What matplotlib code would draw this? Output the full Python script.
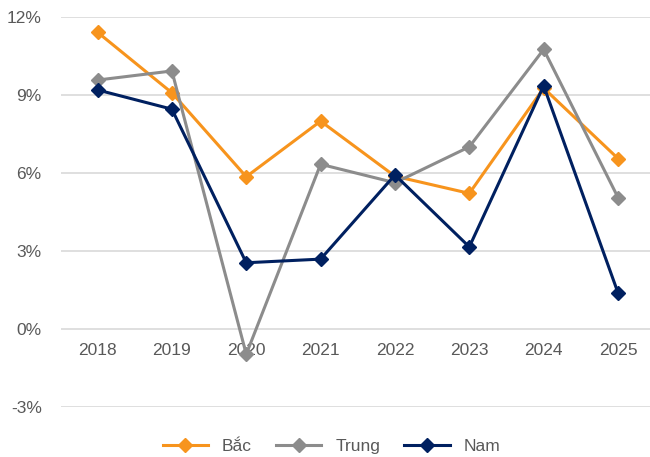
import matplotlib.pyplot as plt
from matplotlib.ticker import FuncFormatter

plt.rcParams['font.family'] = ['Liberation Sans', 'DejaVu Sans']

years = ['2018', '2019', '2020', '2021', '2022', '2023', '2024', '2025']
bac = [11.41, 9.08, 5.85, 7.99, 5.87, 5.21, 9.26, 6.55]
trung = [9.57, 9.92, -0.98, 6.33, 5.62, 7.0, 10.75, 5.05]
nam = [9.19, 8.45, 2.54, 2.68, 5.92, 3.15, 9.35, 1.38]

series = [
    ('Bắc', bac, '#F7941D'),
    ('Trung', trung, '#8C8C8C'),
    ('Nam', nam, '#002060'),
]

fig = plt.figure(figsize=(6.5, 4.57), dpi=100)
ax = fig.add_axes([0.094, 0.110, 0.906, 0.853])

x = list(range(len(years)))
for name, vals, color in series:
    ax.plot(x, vals, color=color, lw=2.2, marker='D', markersize=7,
            label=name, zorder=3)

ax.set_ylim(-3, 12)
ax.set_yticks([-3, 0, 3, 6, 9, 12])
ax.yaxis.set_major_formatter(FuncFormatter(lambda v, p: f'{v:.0f}%'))
ax.set_xlim(-0.49, 7.43)
ax.set_xticks(x)
ax.set_xticklabels(years)

ax.grid(axis='y', color='#D9D9D9', lw=1.2, zorder=0)
for s in ax.spines.values():
    s.set_visible(False)
ax.tick_params(length=0, labelsize=12.5, colors='#595959')
ax.tick_params(axis='y', pad=14)
# năm nằm ngay dưới đường 0%
ax.tick_params(axis='x', pad=-46)

# chú thích canh giữa theo cả hình, không theo trục
fig.legend(loc='lower center', bbox_to_anchor=(0.51, -0.027), ncol=3,
           frameon=False, fontsize=12.5, labelcolor='#595959',
           handlelength=2.6, columnspacing=1.4)

fig.savefig('out.png')
